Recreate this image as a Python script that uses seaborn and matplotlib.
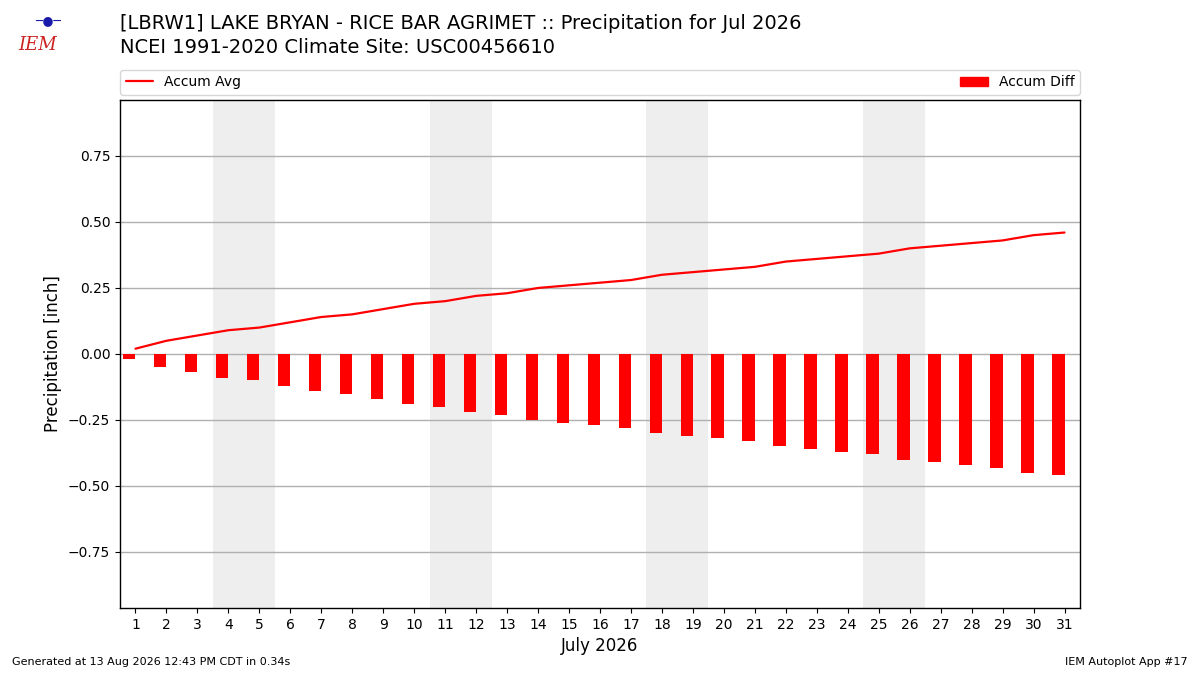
import matplotlib
matplotlib.use("Agg")
import matplotlib.pyplot as plt
import matplotlib.patches as mpatches
from matplotlib.lines import Line2D
import seaborn as sns
import numpy as np
import pandas as pd

days = list(range(1, 32))
accum_avg = [0.02, 0.05, 0.07, 0.09, 0.10, 0.12, 0.14, 0.15, 0.17, 0.19,
             0.20, 0.22, 0.23, 0.25, 0.26, 0.27, 0.28, 0.30, 0.31, 0.32,
             0.33, 0.35, 0.36, 0.37, 0.38, 0.40, 0.41, 0.42, 0.43, 0.45, 0.46]
accum_diff = [-0.02, -0.05, -0.07, -0.09, -0.10, -0.12, -0.14, -0.15, -0.17, -0.19,
              -0.20, -0.22, -0.23, -0.25, -0.26, -0.27, -0.28, -0.30, -0.31, -0.32,
              -0.33, -0.35, -0.36, -0.37, -0.38, -0.40, -0.41, -0.42, -0.43, -0.45, -0.46]
weekends = [(4, 5), (11, 12), (18, 19), (25, 26)]
yticks = [-0.75, -0.5, -0.25, 0, 0.25, 0.5, 0.75]

df = pd.DataFrame({"day": days, "avg": accum_avg, "diff": accum_diff})

sns.set_style("ticks", {"text.color": "black", "axes.labelcolor": "black",
                        "xtick.color": "black", "ytick.color": "black",
                        "axes.edgecolor": "black"})
plt.rcParams["font.family"] = ["DejaVu Sans"]

fig = plt.figure(figsize=(12, 6.75), dpi=100)
ax = fig.add_axes([0.1, 0.0993, 0.8, 0.7526])

for a, b in weekends:
    ax.axvspan(a - 0.5, b + 0.5, color="#eeeeee", zorder=0, lw=0)

ax.grid(axis="y", color="#b0b0b0", lw=1, zorder=1)
ax.set_axisbelow(True)

# bars end at the day position, like the original autoplot
ax.bar(df["day"], df["diff"], width=-0.4, align="edge", color="red", lw=0, zorder=3)
sns.lineplot(data=df, x="day", y="avg", color="red", lw=1.6, ax=ax, zorder=4)

ax.set_xlim(0.5, 31.5)
ax.set_ylim(-0.962, 0.962)
ax.set_xticks(days)
ax.set_xticklabels([str(d) for d in days])
ax.set_yticks(yticks)
ax.set_yticklabels([f"{v:.2f}".replace("-", "\u2212") for v in yticks])
ax.tick_params(labelsize=10, length=3.5, color="black", labelcolor="black")
for s in ax.spines.values():
    s.set_color("black")
    s.set_linewidth(1)
ax.set_xlabel("July 2026", fontsize=12, color="black")
ax.set_ylabel("Precipitation [inch]", fontsize=12, color="black")

handles = [Line2D([], [], color="red", lw=1.6),
           mpatches.Patch(color="red")]
ax.legend(handles, ["Accum Avg", "Accum Diff"], ncol=2, mode="expand",
          loc="lower left", bbox_to_anchor=(0, 1.01, 1, 0.05),
          borderaxespad=0, fontsize=10, frameon=True)

fig.text(0.1, 0.965, "[LBRW1] LAKE BRYAN - RICE BAR AGRIMET :: Precipitation for Jul 2026",
         fontsize=14, va="center", color="black")
fig.text(0.1, 0.93, "NCEI 1991-2020 Climate Site: USC00456610", fontsize=14,
         va="center", color="black")

# rough logo stand-in
fig.text(0.031, 0.933, "IEM", fontsize=13, color="#cc2222", style="italic",
         family="DejaVu Serif", va="center", ha="center")
fig.text(0.04, 0.97, "\u2500\u25cf\u2500", fontsize=9, color="#1a1aaa", va="center", ha="center")

fig.text(0.01, 0.015, "Generated at 13 Aug 2026 12:43 PM CDT in 0.34s", fontsize=8, color="black")
fig.text(0.99, 0.015, "IEM Autoplot App #17", fontsize=8, ha="right", color="black")

fig.savefig("out.png", dpi=100)
